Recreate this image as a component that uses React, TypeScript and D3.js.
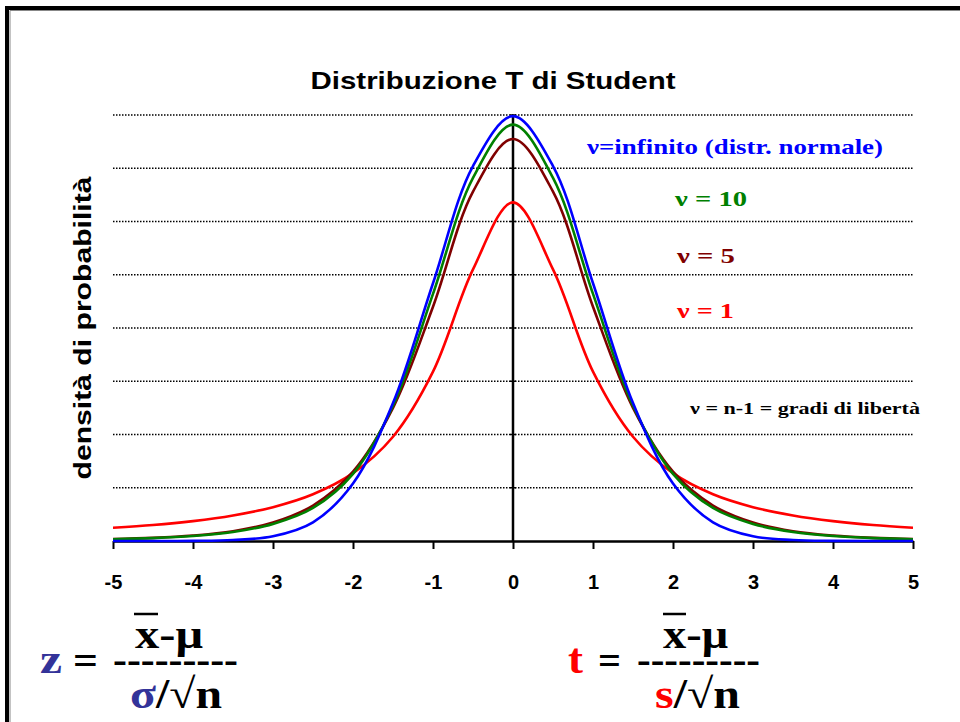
import { useEffect, useRef } from "react";
import { axisBottom, curveCatmullRom, line, scaleLinear, ScaleLinear, select } from "d3";

const xValues = [-5, -4.5, -4, -3.5, -3, -2.5, -2, -1.5, -1, -0.5, 0, 0.5, 1, 1.5, 2, 2.5, 3, 3.5, 4, 4.5, 5];

const normalValues = [0, 0, 0.0001, 0.0009, 0.0044, 0.0175, 0.054, 0.1295, 0.242, 0.3521, 0.3989, 0.3521, 0.242, 0.1295, 0.054, 0.0175, 0.0044, 0.0009, 0.0001, 0, 0];
const t10Values = [0.0016, 0.0027, 0.0047, 0.0085, 0.016, 0.031, 0.063, 0.127, 0.232, 0.341, 0.391, 0.341, 0.232, 0.127, 0.063, 0.031, 0.016, 0.0085, 0.0047, 0.0027, 0.0016];
const t5Values = [0.0018, 0.0029, 0.0051, 0.0092, 0.0173, 0.0333, 0.0651, 0.125, 0.22, 0.328, 0.3775, 0.328, 0.22, 0.125, 0.0651, 0.0333, 0.0173, 0.0092, 0.0051, 0.0029, 0.0018];
const t1Values = [0.0125, 0.015, 0.0187, 0.024, 0.0318, 0.0439, 0.0637, 0.0979, 0.159, 0.255, 0.318, 0.255, 0.159, 0.0979, 0.0637, 0.0439, 0.0318, 0.024, 0.0187, 0.015, 0.0125];

const xTicks = [-5, -4, -3, -2, -1, 0, 1, 2, 3, 4, 5];
const gridValues = [0.05, 0.1, 0.15, 0.2, 0.25, 0.3, 0.35, 0.4];

const series = [
    { name: "t1", values: t1Values, color: "#ff0000" },
    { name: "t5", values: t5Values, color: "#800000" },
    { name: "t10", values: t10Values, color: "#008000" },
    { name: "normal", values: normalValues, color: "#0000ff" },
];

const SERIF = "'Liberation Serif', 'Times New Roman', serif";
const SANS = "'Liberation Sans', Arial, sans-serif";

function AxisBottom({ scale, transform }: { scale: ScaleLinear<number, number>; transform: string }) {
    const ref = useRef<SVGGElement>(null);

    useEffect(() => {
        if (ref.current) {
            const g = select(ref.current);
            g.call(
                axisBottom(scale)
                    .tickValues(xTicks)
                    .tickSize(8)
                    .tickSizeOuter(0)
                    .tickPadding(26)
                    .tickFormat((d) => (Number(d) < 0 ? `-${Math.abs(Number(d))}` : `${d}`))
            );
            g.select(".domain").attr("stroke-width", 2.5);
            g.selectAll(".tick line").attr("stroke-width", 2);
            g.selectAll(".tick text")
                .attr("font-family", SANS)
                .attr("font-weight", "bold")
                .attr("font-size", 20)
                .attr("fill", "#000");
        }
    }, [scale]);

    return <g ref={ref} transform={transform} />;
}

export default function App() {
    const x = scaleLinear().domain([-5, 5]).range([113, 913]);
    const y = scaleLinear().domain([0, 0.4]).range([541, 115]);

    const path = line<number>()
        .x((_, i) => x(xValues[i]))
        .y((d) => y(d))
        .curve(curveCatmullRom.alpha(0.5));

    const stretch = { lengthAdjust: "spacingAndGlyphs" as const };

    return (
        <svg width={960} height={722} style={{ position: "absolute", left: 0, top: 0, background: "#fff" }}>
            <path d="M7,722 V8 H960" fill="none" stroke="#000" strokeWidth={4} />
            <path d="M10,722 V10.5 H960" fill="none" stroke="#888" strokeWidth={1} />

            <text x={493} y={89} textAnchor="middle" fontFamily={SANS} fontWeight="bold" fontSize={24} textLength={365} {...stretch}>
                Distribuzione T di Student
            </text>

            <text transform="translate(91,328) rotate(-90)" textAnchor="middle" fontFamily={SANS} fontWeight="bold" fontSize={23} textLength={303} {...stretch}>
                densità di probabilità
            </text>

            {gridValues.map((v) => (
                <line key={`grid-${v}`} x1={x(-5)} x2={x(5)} y1={y(v)} y2={y(v)} stroke="#000" strokeWidth={1.5} strokeDasharray="1.5,1.5" />
            ))}
            {gridValues.map((v) => (
                <line key={`ytick-${v}`} x1={x(0) - 3} x2={x(0) + 3} y1={y(v)} y2={y(v)} stroke="#000" strokeWidth={1.5} />
            ))}

            <line x1={x(0)} x2={x(0)} y1={y(0)} y2={y(0.4)} stroke="#000" strokeWidth={2.5} />
            <AxisBottom scale={x} transform={`translate(0, ${y(0)})`} />

            {series.map((s) => (
                <path key={s.name} d={path(s.values) ?? ""} fill="none" stroke={s.color} strokeWidth={2.6} />
            ))}

            <g fontFamily={SERIF} fontWeight="bold">
                <text x={587} y={154} fontSize={22} fill="#0000ff" textLength={296} {...stretch}>ν=infinito (distr. normale)</text>
                <text x={675} y={206} fontSize={22} fill="#008000" textLength={72} {...stretch}>ν = 10</text>
                <text x={677} y={263} fontSize={22} fill="#800000" textLength={58} {...stretch}>ν = 5</text>
                <text x={677} y={318} fontSize={22} fill="#ff0000" textLength={57} {...stretch}>ν = 1</text>
                <text x={690} y={414} fontSize={16} fill="#000" textLength={230} {...stretch}>ν = n-1 = gradi di libertà</text>
            </g>

            <g fontFamily={SERIF} fontWeight="bold" fontSize={42} fill="#000">
                <text x={40} y={673} fill="#333399" textLength={22} {...stretch}>z</text>
                <text x={73} y={674} textLength={25} {...stretch}>=</text>
                <text x={113} y={673} textLength={125} {...stretch}>---------</text>
                <text x={135} y={648} textLength={68} {...stretch}>x-μ</text>
                <line x1={134} x2={158} y1={614} y2={614} stroke="#000" strokeWidth={2.5} />
                <text x={130} y={708} textLength={92} {...stretch}>
                    <tspan fill="#333399">σ</tspan>/√n
                </text>

                <text x={568} y={673} fill="#ff0000" textLength={15} {...stretch}>t</text>
                <text x={598} y={674} textLength={23} {...stretch}>=</text>
                <text x={637} y={673} textLength={123} {...stretch}>---------</text>
                <text x={663} y={648} textLength={65} {...stretch}>x-μ</text>
                <line x1={663} x2={686} y1={614} y2={614} stroke="#000" strokeWidth={2.5} />
                <text x={655} y={708} textLength={85} {...stretch}>
                    <tspan fill="#ff0000">s</tspan>/√n
                </text>
            </g>
        </svg>
    );
}
